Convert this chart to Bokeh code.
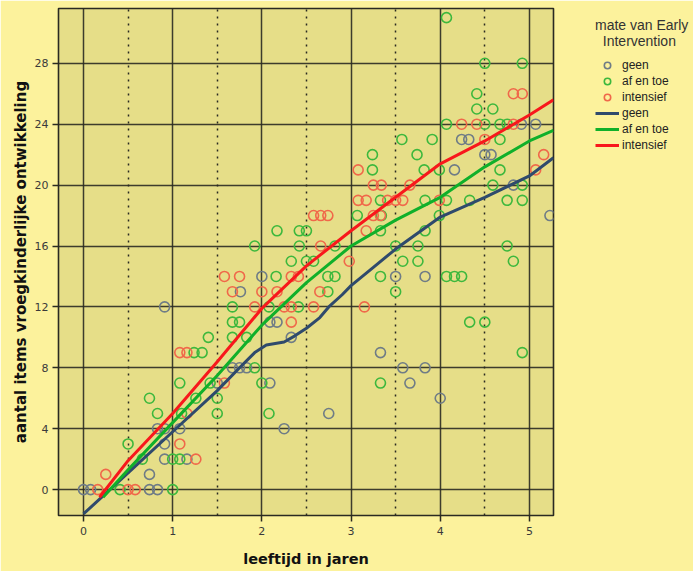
from bokeh.plotting import figure
from bokeh.models import FixedTicker, Legend, LegendItem, Range1d
from bokeh.embed import file_html
from bokeh.resources import INLINE

# ---- data ----
geen_x = [0, 0.08, 0.74, 0.83, 0.74, 0.91, 1.16, 0.91, 0.83, 0.91, 1.08, 2.25, 2.75, 4.0,
          1.5, 2.09, 3.66, 1.67, 1.75, 1.83, 3.58, 3.83, 3.33, 2.33, 2.09, 2.17, 0.91, 1.76,
          2.0, 3.5, 3.83, 5.23, 4.82, 4.16, 4.5, 4.57, 4.24, 4.32, 4.91, 5.07]
geen_y = [0, 0, 0, 0, 1, 2, 2, 3, 4, 4, 4, 4, 5, 6,
          7, 7, 7, 8, 8, 8, 8, 8, 9, 10, 11, 11, 12, 13,
          14, 14, 14, 18, 20, 21, 22, 22, 23, 23, 24, 24]

aet_x = [0.41, 1.0, 0.66, 1.0, 1.08, 0.5, 0.83, 1.1, 1.5, 2.08, 0.74, 1.26, 1.5,
         1.08, 1.42, 2.0, 3.33, 1.92, 1.24, 1.33, 4.92, 1.4, 1.67, 1.83,
         1.67, 1.75, 4.33, 4.5, 1.67, 2.08, 2.41, 2.74, 3.5,
         2.16, 2.74, 2.82, 3.33, 4.07, 4.16, 4.24,
         2.33, 2.5, 2.58, 3.58, 3.75, 4.82,
         1.92, 2.42, 2.82, 3.5, 3.75, 4.75,
         2.17, 2.42, 2.5, 3.33, 3.83,
         3.07, 3.34, 3.99,
         3.33, 3.83, 4.07, 4.33, 4.75, 4.92,
         4.59, 4.92, 3.24, 3.82, 3.99, 4.67, 3.24, 3.74,
         3.57, 3.91, 4.67, 4.07, 4.5, 4.67, 4.75, 4.41, 4.59, 4.41, 4.5, 4.92, 4.07]
aet_y = [0, 0, 2, 2, 2, 3, 5, 5, 5, 5, 6, 6, 6,
         7, 7, 7, 7, 8, 9, 9, 9, 10, 10, 10,
         11, 11, 11, 11, 12, 12, 12, 13, 13,
         14, 14, 14, 14, 14, 14, 14,
         15, 15, 15, 15, 15, 15,
         16, 16, 16, 16, 16, 16,
         17, 17, 17, 17, 17,
         18, 18, 18,
         19, 19, 19, 19, 19, 19,
         20, 20, 21, 21, 21, 21, 22, 22,
         23, 23, 23, 24, 24, 24, 24, 25, 25, 26, 28, 28, 31]

int_x = [0.16, 0.5, 0.58, 0.25, 1.26, 1.08, 1.16, 1.58, 1.08, 1.16, 2.33,
         1.92, 2.25, 2.33, 2.58, 3.15, 1.67, 2.0, 2.17, 2.65,
         1.58, 1.75, 2.33, 2.41, 2.98, 2.66, 3.17,
         2.58, 2.66, 2.74, 3.25, 3.33,
         3.08, 3.17, 3.41, 3.5, 3.58, 3.99,
         3.25, 3.34, 3.66, 3.08, 5.07, 5.16, 4.5,
         4.24, 4.41, 4.82, 4.82, 4.92]
int_y = [0, 0, 0, 1, 2, 3, 5, 7, 9, 9, 11,
         12, 12, 12, 12, 12, 13, 13, 13, 13,
         14, 14, 14, 14, 15, 16, 17,
         18, 18, 18, 18, 18,
         19, 19, 19, 19, 19, 19,
         20, 20, 20, 21, 21, 22, 23,
         24, 24, 24, 26, 26]

# fitted (loess) curves
geen_fit_x = [0.0, 0.5, 1.0, 1.5, 1.75, 1.92, 2.05, 2.25, 2.37, 2.5, 2.65, 2.75, 2.9, 3.0,
              3.25, 3.5, 4.0, 4.5, 5.0, 5.27]
geen_fit_y = [-1.6, 1.1, 3.8, 6.5, 8.0, 9.0, 9.5, 9.7, 10.1, 10.6, 11.3, 12.0, 12.8, 13.4,
              14.6, 15.8, 17.9, 19.2, 20.6, 21.8]
aet_fit_x = [0.22, 0.5, 1.0, 1.5, 2.0, 2.5, 3.0, 3.5, 4.0, 4.5, 5.0, 5.27]
aet_fit_y = [-0.5, 1.3, 4.4, 7.5, 10.8, 13.6, 16.0, 17.7, 19.2, 21.2, 22.9, 23.6]
int_fit_x = [0.18, 0.5, 1.0, 1.5, 2.0, 2.5, 3.0, 3.5, 4.0, 4.5, 5.0, 5.27]
int_fit_y = [-0.5, 1.9, 5.0, 8.4, 11.9, 14.7, 17.0, 19.2, 21.4, 22.9, 24.6, 25.6]

x_ticks = [0, 1, 2, 3, 4, 5]
x_half_ticks = [0.5, 1.5, 2.5, 3.5, 4.5]
y_ticks = [0, 4, 8, 12, 16, 20, 24, 28]

legend_title = "mate van Early\n\u00a0\u00a0Intervention"
legend_labels = ["geen", "af en toe", "intensief"]

OUTER = "#FCF29C"
INNER = "#E6DE88"
GRID = "#2a2a22"

p = figure(frame_width=495, frame_height=507, output_backend="svg", toolbar_location=None,
           x_range=Range1d(-0.28, 5.27), y_range=Range1d(-1.7, 31.6),
           min_border_left=58, min_border_right=140, min_border_top=8, min_border_bottom=56)
p.background_fill_color = INNER
p.border_fill_color = OUTER
p.outline_line_color = GRID
p.outline_line_width = 1.6

p.xaxis.ticker = FixedTicker(ticks=x_ticks, minor_ticks=x_half_ticks)
p.yaxis.ticker = FixedTicker(ticks=y_ticks)
for ax in (p.xaxis, p.yaxis):
    ax.axis_line_color = None
    ax.major_tick_line_color = GRID
    ax.major_tick_line_width = 1.5
    ax.major_tick_out = 6
    ax.major_tick_in = 0
    ax.minor_tick_line_color = None
    ax.major_label_text_font = "DejaVu Sans"
    ax.major_label_text_font_size = "11px"
    ax.major_label_text_color = "#3a3a3a"
    ax.axis_label_text_font = "DejaVu Sans"
    ax.axis_label_text_font_style = "bold"
    ax.axis_label_text_color = "#111111"
p.xaxis.axis_label_text_font_size = "14.5px"
p.yaxis.axis_label_text_font_size = "15px"
p.xaxis.axis_label = "leeftijd in jaren"
p.yaxis.axis_label = "aantal items vroegkinderlijke ontwikkeling"
p.xaxis.major_label_standoff = 5
p.yaxis.major_label_standoff = 4
p.xaxis.axis_label_standoff = 13
p.yaxis.axis_label_standoff = 2

p.xgrid.grid_line_color = GRID
p.xgrid.grid_line_width = 1.5
p.xgrid.grid_line_alpha = 0.9
p.xgrid.minor_grid_line_color = GRID
p.xgrid.minor_grid_line_width = 1.5
p.xgrid.minor_grid_line_dash = "2 5"
p.ygrid.grid_line_color = GRID
p.ygrid.grid_line_width = 1.5
p.ygrid.grid_line_alpha = 0.9

C_GEEN, C_AET, C_INT = "#6F7C86", "#3DB83D", "#F0684A"
L_GEEN, L_AET, L_INT = "#2F4A6C", "#10B02A", "#F8181C"

pts = []
for xs, ys, c in ((geen_x, geen_y, C_GEEN), (aet_x, aet_y, C_AET), (int_x, int_y, C_INT)):
    pts.append(p.scatter(xs, ys, marker="circle", size=10, fill_color=None,
                         line_color=c, line_width=1.6))
lns = []
for xs, ys, c in ((geen_fit_x, geen_fit_y, L_GEEN), (aet_fit_x, aet_fit_y, L_AET),
                  (int_fit_x, int_fit_y, L_INT)):
    lns.append(p.line(xs, ys, line_color=c, line_width=3))

items = [LegendItem(label=l, renderers=[r]) for l, r in zip(legend_labels, pts)]
items += [LegendItem(label=l, renderers=[r]) for l, r in zip(legend_labels, lns)]
legend = Legend(items=items)
legend.title = legend_title
legend.title_text_font = "Liberation Sans"
legend.title_text_font_size = "14px"
legend.title_text_font_style = "normal"
legend.title_text_color = "#333333"
legend.title_standoff = 8
legend.label_text_font = "Liberation Sans"
legend.label_text_font_size = "12px"
legend.label_text_color = "#222222"
legend.glyph_width = 24
legend.glyph_height = 16
legend.label_height = 16
legend.spacing = 0
legend.label_standoff = 3
legend.background_fill_alpha = 0
legend.border_line_color = None
legend.padding = 0
legend.margin = 0
legend.location = (42, 362)
p.add_layout(legend, "right")

html = file_html(p, INLINE)
html = html.replace("<body>", '<body style="background-color:%s;">' % OUTER, 1)
open("out.html", "w").write(html)
